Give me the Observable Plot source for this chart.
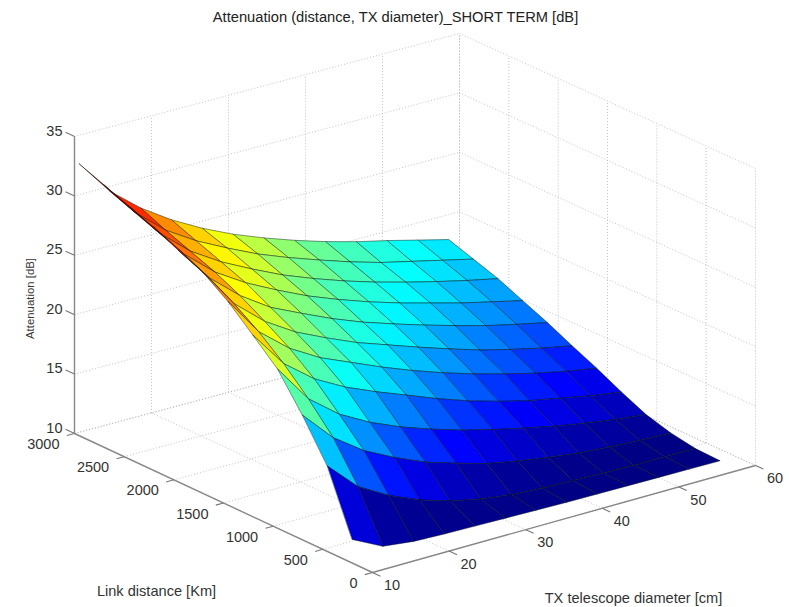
<!DOCTYPE html>
<html><head><meta charset="utf-8">
<style>html,body{margin:0;padding:0;background:#fff}</style>
<script src="https://cdn.jsdelivr.net/npm/d3@7"></script>
<script src="https://cdn.jsdelivr.net/npm/@observablehq/plot@0.6"></script>
</head><body><script>
const diameters=[10.6,14.6,18.6,22.6,26.6,30.6,34.6,38.6,42.6,46.6,50.6,54.6,58.6];
const distances=[250,500,750,1000,1250,1500,1750,2000,2250,2500,2750,3000];
const att250 =[11.7,10.4,10.1,10,9.95,9.9,9.85,9.8,9.78,9.76,9.74,9.72,9.7];
const att500 =[16.9,14.45,13,11.9,11.1,10.55,10.2,10.05,9.95,9.88,9.82,9.8,9.78];
const att750 =[20.2,17.6,15.8,14.5,13.4,12.6,11.85,11.35,10.95,10.6,10.4,10.25,10.15];
const att1000=[23.1,19.9,17.9,16.5,15.4,14.5,13.7,13.05,12.45,11.9,11.45,11.05,10.75];
const att1250=[25,21.9,19.9,18.5,17.4,16.4,15.4,14.5,13.75,13.1,12.6,12.1,11.7];
const att1500=[26.85,23.6,21.5,20,18.9,17.8,16.8,15.9,15.1,14.4,13.75,13.2,12.75];
const att1750=[28.3,25,22.8,21.2,20,18.9,18,17.1,16.25,15.45,14.8,14.2,13.7];
const att2000=[29.2,26.2,24,22.3,21.1,19.95,18.95,18.1,17.3,16.55,15.85,15.25,14.7];
const att2250=[30.2,27.2,25,23.4,22.1,20.9,19.9,19,18.2,17.5,16.8,16.2,15.6];
const att2500=[31,28,25.8,24.2,22.9,21.7,20.7,19.8,19,18.3,17.65,17.05,16.5];
const att2750=[31.8,28.8,26.6,25,23.7,22.5,21.5,20.6,19.75,19,18.4,17.8,17.2];
const att3000=[32.6,29.6,27.5,25.8,24.4,23.2,22.2,21.3,20.5,19.8,19.2,18.55,17.9];
const matrix=[att250,att500,att750,att1000,att1250,att1500,att1750,att2000,att2250,att2500,att2750,att3000];
const dTicks=[10,20,30,40,50,60],lTicks=[0,500,1000,1500,2000,2500,3000],zTicks=[10,15,20,25,30,35];
const jetStops=[0,.125,.375,.625,.875,1],jetColors=["#000080","#0000ff","#00ffff","#ffff00","#ff0000","#800000"];
const P=(D,L,z)=>{const d=(D-10)/50,t=L/3000;return [372+383*d-298*t+2*t*d, 572-107*d-139*t+4*t*d-(z-10)*297/25]};
const zMin=d3.min(matrix.flat()),zMax=d3.max(matrix.flat());
const cells=[];
for(let k=distances.length-2;k>=0;k--)for(let j=diameters.length-2;j>=0;j--){
 const id=k*100+j,c=matrix[k][j];
 [[k,j],[k,j+1],[k+1,j+1],[k+1,j]].forEach(([a,b])=>{const [x,y]=P(diameters[b],distances[a],matrix[a][b]);cells.push({id,x,y,c})});
}
const seg=(a,b)=>{const p=P(...a),q=P(...b);return {x1:p[0],y1:p[1],x2:q[0],y2:q[1]}};
const grid=[];
dTicks.forEach(D=>{grid.push(seg([D,0,10],[D,3000,10]),seg([D,3000,10],[D,3000,35]))});
lTicks.forEach(L=>{grid.push(seg([10,L,10],[60,L,10]),seg([60,L,10],[60,L,35]))});
zTicks.forEach(z=>{grid.push(seg([10,3000,z],[60,3000,z]),seg([60,3000,z],[60,0,z]))});
const axes=[seg([10,3000,10],[10,3000,35]),seg([10,3000,10],[10,0,10]),seg([10,0,10],[60,0,10])];
const ticks=[...zTicks.map(z=>seg([10,3000,z],[10,3090,z])),...lTicks.map(L=>seg([10,L,10],[9,L,10])),...dTicks.map(D=>seg([D,0,10],[D,-80,10]))];
const lk=(data,o)=>Plot.link(data,{x1:"x1",y1:"y1",x2:"x2",y2:"y2",...o});
const F="Liberation Sans";
const plot=Plot.plot({width:789,height:607,margin:0,x:{domain:[0,789],range:[0,789],axis:null},y:{domain:[0,607],range:[0,607],axis:null},
 color:{type:"linear",domain:jetStops.map(s=>zMin+s*(zMax-zMin)),range:jetColors,interpolate:"rgb",clamp:true},
 style:{background:"#fff",fontFamily:F},
 marks:[
  lk(grid,{stroke:"#aaa",strokeWidth:1,strokeDasharray:"1,2",strokeOpacity:.7}),
  lk(axes,{stroke:"#888",strokeWidth:1.4}),
  lk(ticks,{stroke:"#777",strokeWidth:1.1}),
  Plot.line(cells,{x:"x",y:"y",z:"id",fill:"c",stroke:"#001008",strokeOpacity:.45,strokeWidth:1,curve:"linear-closed"}),
  Plot.text(zTicks,{x:()=>62,y:z=>P(10,3000,z)[1],text:d=>String(d),textAnchor:"end",dy:-5.5,fontSize:14.5,fill:"#333"}),
  Plot.text(lTicks,{x:L=>P(10,L,10)[0],y:L=>P(10,L,10)[1],text:d=>String(d),textAnchor:"end",dx:-15,dy:11,fontSize:14.5,fill:"#333"}),
  Plot.text(dTicks,{x:D=>P(D,0,10)[0],y:D=>P(D,0,10)[1],text:d=>String(d),dx:19.5,dy:13,fontSize:14.5,fill:"#333"}),
  Plot.text(["Attenuation (distance, TX diameter)_SHORT TERM [dB]"],{x:()=>395,y:()=>17,text:d=>d,fontSize:14.7,fill:"#222"}),
  Plot.text(["Attenuation [dB]"],{x:()=>30,y:()=>298,text:d=>d,rotate:-90,fontSize:11.4,fill:"#333"}),
  Plot.text(["Link distance [Km]"],{x:()=>156,y:()=>591,text:d=>d,fontSize:14.6,fill:"#333"}),
  Plot.text(["TX telescope diameter [cm]"],{x:()=>633,y:()=>598,text:d=>d,fontSize:14.6,fill:"#333"})
 ]});
document.body.append(plot);
</script></body></html>
